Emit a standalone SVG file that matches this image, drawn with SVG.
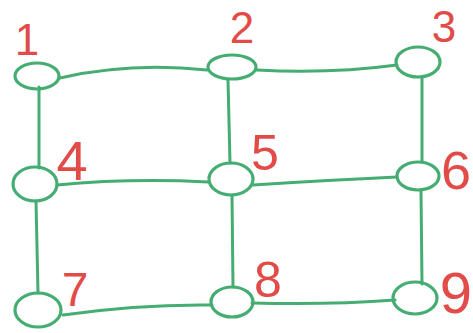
<svg xmlns="http://www.w3.org/2000/svg" width="473" height="333" viewBox="0 0 473 333">
<style>
.e{fill:none;stroke:#45ad72;stroke-width:3;stroke-linecap:round}
.n{fill:none;stroke:#45ad72;stroke-width:3.2}
.t{fill:#e24c48;font-family:"Liberation Sans",Arial,sans-serif;text-anchor:middle}
</style>
<rect width="473" height="333" fill="#ffffff"/>
<g id="edges">
<path class="e" d="M60,78 Q130,62 207,70"/>
<path class="e" d="M257,70 Q330,74 397,65"/>
<path class="e" d="M39,87 L39,168"/>
<path class="e" d="M228,80 L230,163"/>
<path class="e" d="M422,77 L422,162"/>
<path class="e" d="M57,185 Q130,178 208,182"/>
<path class="e" d="M253,185 Q330,180 397,177"/>
<path class="e" d="M36,201 L38,293"/>
<path class="e" d="M232,195 L233,287"/>
<path class="e" d="M421,190 L422,284"/>
<path class="e" d="M63,315 Q140,304 212,305"/>
<path class="e" d="M252,303 Q330,305 395,300"/>
</g>
<g id="n1"><ellipse class="n" cx="37" cy="76" rx="22" ry="13"/><text class="t" x="27" y="55" font-size="44">1</text></g>
<g id="n2"><ellipse class="n" cx="232" cy="67" rx="24" ry="12"/><text class="t" x="242" y="43" font-size="44">2</text></g>
<g id="n3"><ellipse class="n" cx="418" cy="62" rx="22" ry="15"/><text class="t" x="444" y="42" font-size="44">3</text></g>
<g id="n4"><ellipse class="n" cx="35" cy="184" rx="22" ry="17"/><text class="t" x="72" y="180" font-size="56">4</text></g>
<g id="n5"><ellipse class="n" cx="231" cy="179" rx="22" ry="16"/><text class="t" x="265" y="170" font-size="50">5</text></g>
<g id="n6"><ellipse class="n" cx="418" cy="176" rx="21" ry="14"/><text class="t" x="456" y="189" font-size="54">6</text></g>
<g id="n7"><ellipse class="n" cx="38" cy="310" rx="23" ry="17"/><text class="t" x="75" y="306" font-size="48">7</text></g>
<g id="n8"><ellipse class="n" cx="232" cy="302" rx="21" ry="15"/><text class="t" x="268" y="297" font-size="50">8</text></g>
<g id="n9"><ellipse class="n" cx="415" cy="298" rx="22" ry="16"/><text class="t" x="456" y="313" font-size="58">9</text></g>
</svg>
